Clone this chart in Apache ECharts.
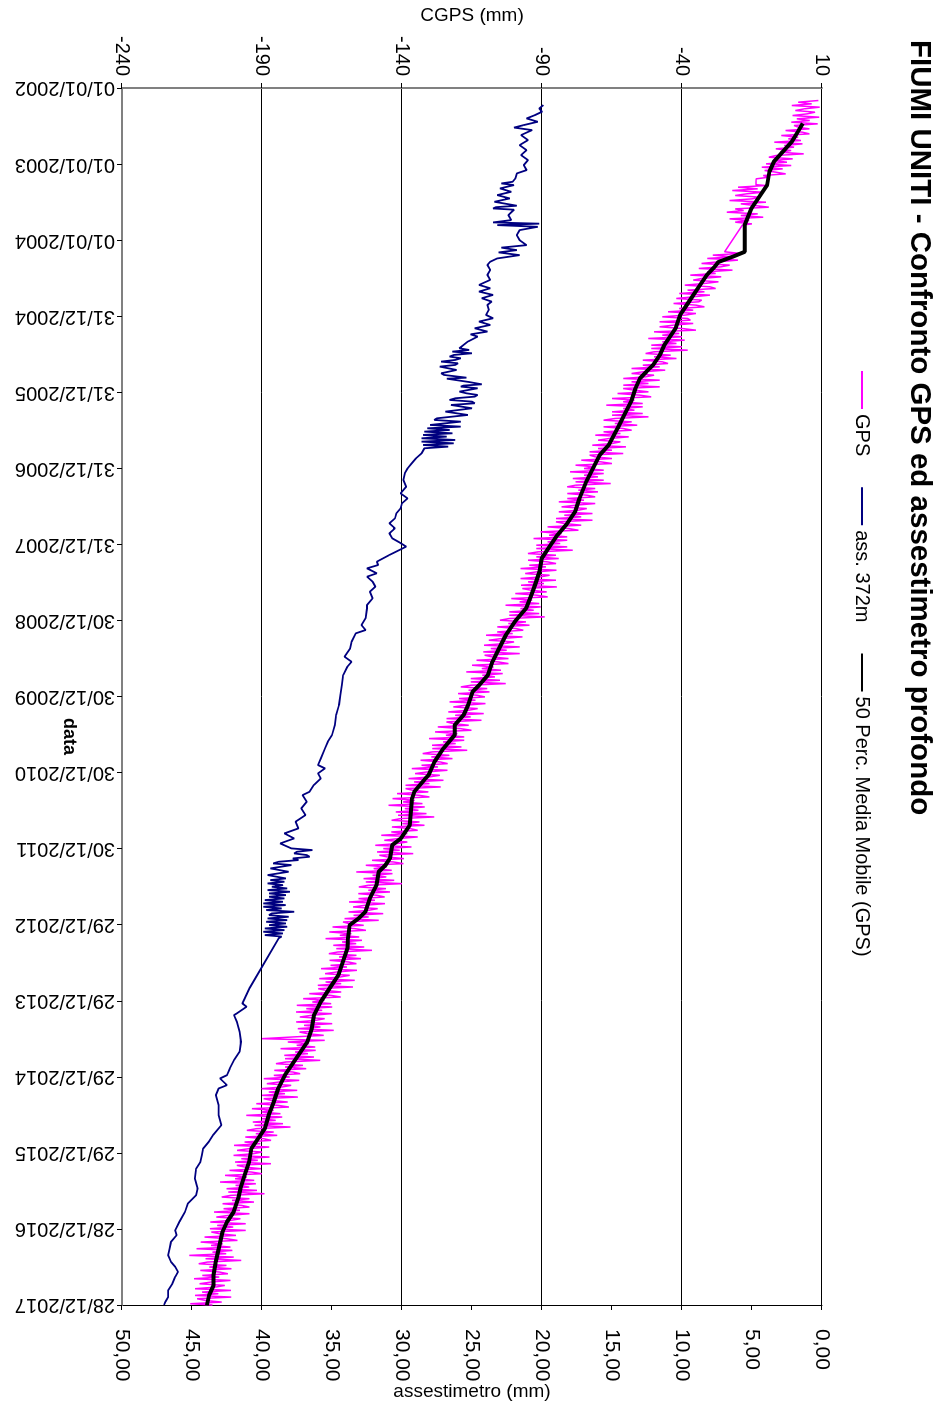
<!DOCTYPE html>
<html><head><meta charset="utf-8">
<script src="https://cdn.jsdelivr.net/npm/echarts@6/dist/echarts.min.js"></script>
<style>
html,body{margin:0;padding:0;background:#fff;width:937px;height:1402px;overflow:hidden;}
#wrap{position:absolute;left:0;top:0;width:1402px;height:937px;transform-origin:0 0;transform:translate(937px,0) rotate(90deg);}
#main{width:1402px;height:937px;}
</style></head><body>
<div id="wrap"><div id="main"></div></div>
<script>
const titleText = 'FIUMI UNITI - Confronto GPS ed assestimetro profondo';
const seriesNames = ['GPS', 'ass. 372m', '50 Perc. Media Mobile (GPS)'];
const dateTicks = ['01/01/2002','01/01/2003','01/01/2004','31/12/2004','31/12/2005','31/12/2006','31/12/2007','30/12/2008','30/12/2009','30/12/2010','30/12/2011','29/12/2012','29/12/2013','29/12/2014','29/12/2015','28/12/2016','28/12/2017'];
const xAxisName = 'data';
const leftAxisName = 'CGPS (mm)';
const rightAxisName = 'assestimetro (mm)';

// [days since 01/01/2002, CGPS mm]
const gps = [[60,8.7],[68,1.5],[76,6.3],[84,-0.8],[92,9.2],[100,3.7],[108,0.5],[116,7.5],[124,4.8],[132,-0.5],[140,9.0],[148,1.0],[156,5.6],[164,-1.0],[172,8.5],[180,0],[188,1.5],[196,5.5],[204,-3.0],[212,3.0],[220,5.5],[228,-4.5],[236,1.5],[244,-2.0],[252,2.5],[260,-7.0],[268,3.0],[276,-3.5],[284,0.0],[292,-6.5],[300,-1.0],[308,-5.0],[316,3.5],[324,-6.5],[332,-9.0],[340,-0.5],[348,-7.5],[356,-2.5],[364,-10.0],[372,-1.0],[380,-11.5],[388,-4.0],[396,-10.5],[404,-6.5],[412,-3.0],[420,-11.0],[428,-9.0],[436,-13.5],[452,-13.6],[464,-13.6],
[468,-10],[476,-20],[484,-13],[492,-22],[500,-11],[508,-17],[516,-21],[524,-12],[532,-15],[540,-23],[548,-10],[556,-19],[564,-14],[572,-9],[580,-21],[588,-18],[596,-24],[604,-13],[612,-19],[620,-11],[628,-23],[636,-16],[644,-21],[652,-15],[658,-18.4],[786,-24.8],
[794,-19],[802,-29],[810,-22],[818,-31],[826,-20],[834,-27],[842,-33],[850,-23],[858,-26],[866,-34],[874,-22],[882,-31],[890,-28],[898,-37],[906,-26],[914,-33],[922,-36],[930,-27],[938,-32],[946,-39],[954,-30],[962,-28],[970,-38],[978,-32],[986,-41],[994,-30],[1002,-36],[1010,-42],[1018,-33],[1026,-34],[1034,-43],[1042,-35],[1050,-32],[1058,-41],[1066,-36],[1074,-45],[1082,-35],[1090,-39],[1098,-47],[1106,-38],
[1114,-37],[1122,-48],[1130,-36],[1138,-43],[1146,-48],[1154,-40],[1162,-35],[1170,-50],[1178,-41],[1186,-47],[1194,-40],[1202,-52],[1210,-39],[1218,-47],[1226,-42],[1234,-51],[1242,-40],[1250,-51],[1258,-38],[1266,-50],[1274,-53],[1282,-44],[1290,-50],[1298,-42],[1306,-54],[1314,-47],[1322,-45],[1330,-54],[1338,-48],[1346,-58],[1354,-46],[1362,-54],[1370,-58],[1378,-50],[1386,-53],[1394,-61],[1402,-48],[1410,-58],[1418,-52],[1426,-61],[1434,-48],[1442,-61],[1450,-57],[1458,-52],[1466,-63],[1474,-55],[1482,-51],[1490,-65],[1498,-57],[1506,-61],[1514,-54],[1522,-67],[1530,-54],[1538,-61],[1546,-57],[1554,-65],[1562,-54],[1570,-65],[1578,-52],[1586,-64],[1594,-68],[1602,-58],[1610,-64],[1618,-56],[1626,-68],[1634,-61],
[1642,-58],[1650,-68],[1658,-62],[1666,-71],[1674,-59],[1682,-66],[1690,-70],[1698,-62],[1706,-65],[1714,-72],[1722,-60],[1730,-70],[1738,-65],[1746,-73],[1754,-61],[1762,-73],[1770,-71],[1778,-65],[1786,-76],[1794,-69],[1802,-65],[1810,-78],[1818,-71],[1826,-75],[1834,-68],[1842,-80],[1850,-68],[1858,-75],[1866,-70],[1874,-79],[1882,-68],[1890,-78],[1898,-65.5],[1906,-78],[1914,-81],[1922,-71],[1930,-77],[1938,-70],[1946,-81],[1954,-74],[1962,-71],[1970,-81],[1978,-75],[1986,-84],[1994,-71],[2002,-78],[2010,-83],[2018,-74],[2026,-77],[2034,-84],[2042,-72],[2050,-82],[2058,-76],[2066,-85],[2074,-72],[2082,-85],[2090,-82],[2098,-76],[2106,-88],[2114,-80.5],[2122,-77],[2130,-90.5],[2138,-83],[2146,-87.5],[2154,-81],[2162,-93],[2170,-81],[2178,-88],[2186,-83.5],[2194,-92],[2202,-81],[2210,-92],[2218,-79],[2226,-91.5],[2234,-95],[2242,-85],[2250,-92],[2258,-84],[2266,-95],[2274,-88],[2282,-85],[2290,-94.5],[2298,-88.6],[2306,-97.7],[2314,-84.8],[2322,-92],[2330,-96],[2338,-87.3],[2346,-90.5],[2354,-97.7],[2362,-85],[2370,-95],[2378,-89.3],[2386,-97.5],[2394,-84.7],[2402,-97],[2410,-94],[2418,-88.3],[2426,-99.5],[2434,-91.8],
[2442,-88],[2450,-101],[2458,-93.5],[2466,-98],[2474,-91],[2482,-103],[2490,-90.5],[2498,-97.7],[2506,-93],[2514,-101.7],[2522,-91],[2530,-101.7],[2538,-89],[2546,-101.7],[2554,-105],[2562,-95.7],[2570,-102],[2578,-94.5],[2586,-106],[2594,-99.3],[2602,-96.7],[2610,-106],[2618,-100.5],[2626,-110],[2634,-97],[2642,-104.5],[2650,-109],[2658,-100],[2666,-103.4],[2674,-110.7],[2682,-98],[2690,-108.3],[2698,-102.6],[2706,-111],[2714,-98],[2722,-110.5],[2730,-107.8],[2738,-102],[2746,-113.4],[2754,-105.7],[2762,-102],[2770,-115],[2778,-107.3],[2786,-111.5],[2794,-104.7],[2802,-117],[2810,-104],[2818,-111.3],[2826,-106.8],[2834,-115.4],[2842,-105],[2850,-115.4],[2858,-103],[2866,-115.4],[2874,-119],[2882,-109.6],[2890,-116.2],[2898,-108.8],[2906,-120],[2914,-113.2],[2922,-110.4],[2930,-119.6],[2938,-113.8],[2946,-123],[2954,-110.2],[2962,-117.4],[2970,-121.7],[2978,-113],[2986,-116.2],[2994,-123.5],[3002,-110.8],[3010,-121],[3018,-115.5],[3026,-124.1],[3034,-111.6],[3042,-124.1],[3050,-121.7],[3058,-116.2],[3066,-127.2],[3074,-119.2],[3082,-115.2],[3090,-128.2],[3098,-120.2],[3106,-124.3],[3114,-117.8],[3122,-130.3],[3130,-117.8],[3138,-125.3],[3146,-120.8],[3154,-129.3],[3162,-118.8],[3170,-129.2],[3178,-116.7],[3186,-129.2],[3194,-132.6],[3202,-123.1],[3210,-129.5],[3218,-122],[3226,-133.4],[3234,-126.4],[3242,-123.7],[3250,-133],[3258,-127.2],[3266,-136.5],[3274,-123.8],[3282,-131],[3290,-135.3],[3298,-126.5],[3306,-130.2],[3314,-137.7],[3322,-125.2],[3330,-135.7],[3338,-130.2],[3346,-138.7],[3354,-126.2],[3362,-138.7],[3370,-136.2],[3378,-130.6],[3386,-141.8],[3394,-134],[3402,-130.2],[3410,-143.4],
[3418,-135.5],[3426,-139.6],[3434,-132.7],[3442,-144.8],[3450,-131.9],[3458,-139],[3466,-134.1],[3474,-142.2],[3482,-131.3],[3490,-141.4],[3498,-128.5],[3506,-140.6],[3514,-143.7],[3522,-133.8],[3530,-139.9],[3538,-132],[3546,-143.6],[3554,-137],[3562,-134.4],[3570,-143.8],[3578,-138.1],[3586,-147.4],[3594,-134.4],[3602,-141.5],[3610,-146.3],[3618,-138.1],[3626,-141.8],[3634,-149.5],[3642,-136.6],[3650,-146.7],[3658,-140.8],[3666,-148.9],[3674,-136],[3682,-148.1],[3690,-145.2],[3698,-139.3],[3706,-150.7],[3714,-143.1],[3722,-139.5],[3730,-152.9],[3738,-145.5],[3746,-150.1],[3754,-143.7],[3762,-156.3],[3770,-143.4],[3778,-150.5],[3786,-145.6],[3794,-153.7],[3802,-142.8],[3810,-152.9],[3818,-140],[3826,-152.1],[3834,-155.4],[3842,-145.7],[3850,-152],[3858,-144.3],[3866,-155.6],[3874,-148.9],[3882,-146.2],[3890,-155.5],[3898,-149.7],[3906,-158.9],[3914,-146.1],[3922,-153.3],[3930,-157.5],[3938,-148.7],[3946,-151.9],[3954,-159.1],[3962,-146.7],[3970,-157.3],[3978,-151.9],[3986,-160.5],[3994,-148.3],[4002,-161.1],[4010,-158.9],[4018,-153.7],[4026,-164.8],[4034,-156.8],[4042,-152.9],[4050,-166],[4058,-158.1],[4066,-162.2],[4074,-155.3],[4082,-167.3],
[4090,-154.3],[4098,-161.4],[4106,-156.4],[4114,-164.5],[4122,-153.5],[4130,-163.5],[4138,-150.7],[4146,-162.9],[4154,-166.1],[4162,-156.3],[4170,-162.5],[4178,-154.7],[4186,-165.9],[4194,-159.1],[4202,-156.3],[4210,-165.5],[4218,-159.7],[4226,-168.9],[4234,-156.1],[4242,-163.3],[4250,-167.5],[4258,-158.7],[4266,-162.1],[4274,-169.5],[4282,-156.9],[4290,-167.3],[4298,-161.7],[4306,-170.1],[4314,-157.5],[4322,-169.9],[4330,-167.3],[4338,-161.7],[4346,-173.1],[4354,-165.5],[4362,-161.9],[4370,-175.3],[4378,-167.7],[4386,-172],[4394,-165.3],[4402,-177.6],[4410,-164.9],[4418,-174.2],[4426,-168.5],[4434,-177.8],[4442,-165.1],[4450,-172.4],[4458,-176.5],[4466,-167.6],[4474,-170.7],[4482,-177.8],[4490,-164.9],[4498,-175],[4506,-169.1],[4514,-177.2],[4522,-164.4],[4530,-176.6],[4538,-173.8],[4546,-168],[4554,-179.2],[4562,-190],[4570,-167.6],[4578,-180.8],[4586,-173.2],[4594,-177.6],[4602,-171],[4610,-183.4],[4618,-170.8],[4626,-178.2],[4634,-173.6],[4642,-182],[4650,-171.4],[4658,-181.8],[4666,-169.2],[4674,-181.6],[4682,-185],[4690,-175.4],[4698,-181.8],[4706,-174.2],[4714,-185.6],[4722,-179],[4730,-176.4],[4738,-185.8],[4746,-180.1],[4754,-189.4],[4762,-176.7],[4770,-184],[4778,-188.3],[4786,-179.6],[4794,-182.9],[4802,-190.2],[4810,-177.4],[4818,-187.6],[4826,-181.8],[4834,-190],[4842,-177.2],[4850,-189.4],[4858,-186.6],[4866,-180.8],[4874,-192],[4882,-184.2],[4890,-180.4],[4898,-193.6],[4906,-185.8],[4914,-190.1],[4922,-183.4],[4930,-195.6],
[4938,-182.8],[4946,-190],[4954,-185.1],[4962,-193.3],[4970,-182.5],[4978,-192.7],[4986,-179.8],[4994,-192],[5002,-195.4],[5010,-185.8],[5018,-192.2],[5026,-184.6],[5034,-196],[5042,-189.4],[5050,-186.8],[5058,-196.2],[5066,-190.6],[5074,-200],[5082,-187.4],[5090,-194.8],[5098,-198.9],[5106,-190],[5114,-193.1],[5122,-200.2],[5130,-187.3],[5138,-197.4],[5146,-191.5],[5154,-199.6],[5162,-186.8],[5170,-199],[5178,-196.2],[5186,-190.4],[5194,-201.6],[5202,-193.8],[5210,-190],[5218,-203.2],[5226,-195.4],[5234,-199.6],[5242,-192.8],[5250,-205],[5258,-192.2],[5266,-199.4],[5274,-194.6],[5282,-202.7],[5290,-191.8],[5298,-202],[5306,-189.1],[5314,-201.2],[5322,-204.4],[5330,-194.5],[5338,-200.7],[5346,-192.9],[5354,-204.1],[5362,-197.3],[5370,-194.5],[5378,-203.7],[5386,-197.9],[5394,-207.1],[5402,-194.5],[5410,-201.9],[5418,-206.3],[5426,-197.7],[5434,-201.1],[5442,-208.5],[5450,-195.8],[5458,-206],[5466,-200.3],[5474,-208.6],[5482,-195.8],[5490,-208.1],[5498,-205.2],[5506,-199.3],[5514,-210.5],[5522,-202.6],[5530,-198.8],[5538,-211.9],[5546,-204],[5554,-208.2],[5562,-201.3],[5570,-213.4],[5578,-200.6],[5586,-207.7],[5594,-202.8],[5602,-216],[5610,-200.1],[5618,-210.2],[5626,-197.4],[5634,-209.5],[5642,-212.6],[5650,-202.7],[5658,-208.8],[5666,-200.9],[5674,-212],[5682,-205.1],[5690,-202.2],[5698,-211.3],[5706,-205.3],[5714,-214.3],[5722,-201.3],[5730,-208.3],[5738,-212.3],[5746,-203.3],[5754,-206.6],[5762,-213.9],[5770,-201.1],[5778,-211.4],[5786,-205.6],[5794,-213.9],[5802,-201],[5810,-213.2],[5818,-210.3],[5826,-204.4],[5834,-215.6],[5840,-207.7]];

// [days since 01/01/2002, assestimetro mm]
const ass372 = [[82,19.9],[98,20.2],[114,20.0],[130,20.5],[146,21.1],[162,20.3],[178,21.3],[190,22.0],[202,20.7],[226,21.5],[250,21.0],[274,21.6],[298,21.1],[322,21.5],[346,21.0],[370,21.3],[394,21.1],[410,21.8],[434,21.9],[450,22.1],[458,22.9],[466,22.0],[474,22.1],[482,23.0],[490,23.0],[498,22.2],[506,22.3],[514,23.2],[522,23.1],[530,22.3],[538,22.4],[546,23.4],[554,23.4],[560,22.2],[565,21.8],[572,23.3],[578,23.5],[584,22.0],[590,21.9],[610,22.4],[634,22.2],[645,23.5],[651,20.2],[658,23.2],[666,20.3],[682,21.6],[706,21.8],[730,21.6],[754,21.1],[766,22.9],[778,21.8],[789,23.1],[802,21.6],[818,23.2],[834,23.7],[849,23.9],[873,23.7],[897,23.9],[921,23.7],[945,24.5],[961,23.7],[977,24.5],[993,23.5],[1009,24.3],[1025,23.6],[1041,23.9],[1065,23.8],[1089,24.0],[1105,23.5],[1121,24.5],[1137,23.7],[1153,24.8],[1169,23.9],[1182,25.1],[1193,24.6],[1217,25.3],
[1249,25.9],[1257,25.2],[1265,26.4],[1273,25.0],[1281,26.3],[1289,26.6],[1297,25.8],[1305,26.2],[1313,27.2],[1321,26.0],[1329,26.2],[1337,27.3],[1345,27.4],[1353,26.1],[1361,26.2],[1369,27.2],[1377,27.0],[1390,25.4],[1395,26.8],[1401,26.9],[1411,25.2],[1422,24.3],[1428,25.6],[1433,25.8],[1441,24.6],[1449,24.5],[1457,25.9],[1465,25.4],[1473,24.6],[1481,24.8],[1489,26.2],[1497,26.6],[1505,25.0],[1513,24.8],[1521,26.5],[1529,26.4],[1537,25.0],[1545,25.1],[1553,26.9],[1561,27.0],[1569,25.3],[1577,25.4],[1585,27.5],[1593,27.7],[1601,25.8],[1609,25.9],[1617,28.0],[1625,25.8],[1633,28.2],[1641,26.6],[1649,28.4],[1657,26.4],[1665,28.5],[1673,26.8],[1681,28.6],[1689,26.2],[1697,28.6],[1705,26.3],[1713,28.5],[1721,26.7],[1729,28.4],[1737,28.5],[1753,28.6],
[1777,29.0],[1801,29.3],[1825,29.6],[1849,29.8],[1881,29.9],[1913,29.7],[1945,30.1],[1969,29.6],[1993,30.0],[2017,30.1],[2041,30.4],[2065,30.5],[2089,30.9],[2113,30.5],[2137,30.9],[2161,30.7],[2180,30.2],[2201,29.7],[2241,30.9],[2273,31.8],[2289,31.7],[2305,32.5],[2329,31.8],[2345,32.5],[2369,32.1],[2393,31.9],[2417,32.3],[2449,32.1],[2481,32.5],[2497,32.5],[2545,32.6],[2577,32.9],[2601,32.6],[2617,33.3],[2657,33.6],[2689,33.7],[2729,34.1],[2753,33.6],[2777,33.9],[2817,34.2],[2865,34.3],[2913,34.4],[2961,34.5],[3009,34.7],[3057,34.8],[3105,35.0],[3137,35.3],[3169,35.5],[3217,35.8],[3249,36.0],[3265,35.5],[3289,36.0],[3313,35.8],[3345,36.3],[3377,36.6],[3393,37.1],[3425,36.8],[3457,37.2],[3489,36.9],[3521,37.6],[3553,37.4],[3577,38.4],[3601,37.7],[3625,38.7],
[3649,37.9],[3657,36.4],[3665,37.5],[3673,37.7],[3681,36.8],[3689,36.6],[3697,37.8],[3705,37.4],[3713,38.8],[3721,39.2],[3729,37.9],[3737,38.0],[3745,39.4],[3753,39.3],[3761,38.1],[3769,38.2],[3777,39.6],[3785,39.5],[3793,38.3],[3801,39.4],[3809,38.4],[3817,39.6],[3825,38.5],[3833,39.3],[3841,38.2],[3849,39.6],[3857,38.0],[3865,39.5],[3873,38.3],[3881,39.5],[3889,38.4],[3897,39.8],[3905,38.5],[3913,39.9],[3921,38.3],[3929,39.9],[3937,38.6],[3945,39.7],[3953,37.7],[3961,39.3],[3969,39.5],[3977,38.1],[3985,39.6],[3993,38.2],[4001,39.7],[4009,38.3],[4017,39.5],[4025,38.2],[4033,39.8],[4041,38.4],[4049,39.9],[4057,38.5],[4065,39.8],[4072,38.6],[4080,38.8],
[4321,40.9],[4393,41.4],[4409,41.1],[4441,41.8],[4449,42.0],[4481,41.8],[4529,41.6],[4577,41.5],[4625,41.6],[4665,42.0],[4705,42.3],[4737,42.5],[4753,43.0],[4785,42.5],[4801,43.1],[4833,43.3],[4881,43.1],[4929,43.1],[4977,42.9],[5025,43.5],[5057,43.8],[5089,44.2],[5121,44.3],[5153,44.4],[5185,44.7],[5233,44.8],[5281,44.6],[5313,44.7],[5353,45.3],[5393,45.5],[5441,45.9],[5481,46.2],[5505,46.1],[5537,46.5],[5569,46.6],[5601,46.7],[5633,46.5],[5657,46.2],[5681,46.0],[5705,46.2],[5737,46.4],[5769,46.7],[5801,46.7],[5825,46.9],[5840,47.0]];

// [days since 01/01/2002, CGPS mm] 50-period moving average
const mediaMobile = [[170,3.1],[214,1.2],[258,-0.8],[306,-4.0],[354,-7.2],[402,-8.8],[466,-9.6],[514,-12.0],[578,-15.2],[658,-17.6],[786,-17.6],[810,-22.0],[835,-27.0],[860,-28.5],[897,-31.1],[961,-34.3],[1025,-37.5],[1089,-40.7],[1153,-42.3],[1169,-43.1],[1233,-46.3],[1281,-47.9],[1329,-50.3],[1361,-52.7],[1393,-55.0],[1441,-56.6],[1505,-58.2],[1569,-60.6],[1633,-63.0],[1713,-66.2],[1761,-69.4],[1825,-71.8],[1889,-74.2],[1969,-76.6],[2033,-78.2],[2097,-81.4],[2145,-84.5],[2209,-87.7],[2257,-90.1],[2321,-90.9],[2385,-92.5],[2433,-93.8],[2497,-95.7],[2561,-99.7],[2625,-102.9],[2689,-105.3],[2753,-107.7],[2817,-109.3],[2865,-112.4],[2897,-114.8],[2961,-116.4],[3009,-118.0],[3057,-121.2],[3105,-121.2],[3169,-125.2],[3233,-128.4],[3297,-130.5],[3313,-131.6],[3377,-135.6],[3409,-136.4],[3537,-137.2],[3601,-140.4],[3633,-143.5],[3697,-144.3],[3729,-145.9],[3761,-148.3],[3825,-149.1],[3889,-151.5],[3953,-153.1],[3985,-155.5],[4017,-158.7],[4081,-159.3],[4129,-159.5],[4193,-161.1],[4257,-162.7],[4321,-165.9],[4385,-169.0],[4449,-171.4],[4513,-172.2],[4577,-173.8],[4625,-176.2],[4673,-178.6],[4737,-181.8],[4801,-184.2],[4865,-185.8],[4929,-187.6],[4993,-189.0],[5041,-191.4],[5089,-193.8],[5153,-194.6],[5217,-196.2],[5281,-197.7],[5329,-198.5],[5393,-200.1],[5441,-202.5],[5489,-204.1],[5537,-204.9],[5585,-205.7],[5633,-206.5],[5697,-207.3],[5745,-207.3],[5793,-208.9],[5841,-209.7]];

const FONT = "Liberation Sans";
const chart = echarts.init(document.getElementById('main'), null, {renderer: 'canvas', width: 1402, height: 937});
chart.setOption({
  animation: false,
  backgroundColor: '#fff',
  textStyle: {fontFamily: FONT},
  title: {text: titleText, left: 40, top: 3, padding: 0, textStyle: {fontSize: 29.5, fontWeight: 'bold', color: '#000', fontFamily: FONT}},
  legend: {left: 370, top: 65, padding: 0, itemWidth: 38, itemHeight: 2, itemGap: 30, itemStyle: {opacity: 0},
    textStyle: {fontSize: 20, color: '#000', fontFamily: FONT}, data: seriesNames},
  grid: {left: 88, right: 97, top: 115, bottom: 122, show: false, outerBoundsMode: 'none', containLabel: false},
  xAxis: {
    type: 'value', min: 0, max: 5840, interval: 365,
    axisLine: {onZero: false, lineStyle: {color: '#808080', width: 2}},
    axisTick: {show: true, length: 5, lineStyle: {color: '#000'}},
    splitLine: {show: false},
    axisLabel: {rotate: -90, margin: 7, fontSize: 20, color: '#000', fontFamily: FONT, formatter: v => dateTicks[Math.round(v / 365)]},
    name: xAxisName, nameLocation: 'middle', nameGap: 44, nameMoveOverlap: false,
    nameTextStyle: {fontWeight: 'bold', fontSize: 18, color: '#000', fontFamily: 'Liberation Sans', padding: [0, 0, 0, 80]}
  },
  yAxis: [{
    type: 'value', min: -240, max: 10, interval: 50, position: 'left',
    name: leftAxisName, nameLocation: 'middle', nameGap: 63, nameRotate: 90, nameMoveOverlap: false,
    nameTextStyle: {fontSize: 19, color: '#000', fontFamily: FONT},
    axisLine: {show: true, onZero: false, lineStyle: {color: '#808080', width: 2}},
    axisTick: {show: true, length: 5, lineStyle: {color: '#000'}},
    splitLine: {show: true, lineStyle: {color: '#000', width: 1}},
    axisLabel: {margin: 12, fontSize: 20, color: '#000', fontFamily: FONT}
  }, {
    type: 'value', min: 0, max: 50, interval: 5, position: 'right', inverse: true,
    name: rightAxisName, nameLocation: 'middle', nameGap: 77, nameRotate: 90, nameMoveOverlap: false,
    nameTextStyle: {fontSize: 19, color: '#000', fontFamily: FONT},
    axisLine: {show: true, onZero: false, lineStyle: {color: '#000', width: 1}},
    axisTick: {show: true, length: 5, lineStyle: {color: '#000'}},
    splitLine: {show: false},
    axisLabel: {margin: 24, fontSize: 21, color: '#000', fontFamily: FONT, formatter: v => v.toFixed(2).replace('.', ',')}
  }],
  series: [
    {name: seriesNames[0], type: 'line', yAxisIndex: 0, data: gps, symbol: 'none', lineStyle: {color: '#FF00FF', width: 1.5}, itemStyle: {color: '#FF00FF'}},
    {name: seriesNames[1], type: 'line', yAxisIndex: 1, data: ass372, symbol: 'none', lineStyle: {color: '#000080', width: 1.8}, itemStyle: {color: '#000080'}},
    {name: seriesNames[2], type: 'line', yAxisIndex: 0, data: mediaMobile, symbol: 'none', lineStyle: {color: '#000000', width: 4}, itemStyle: {color: '#000000'}}
  ]
});
</script>
</body></html>
